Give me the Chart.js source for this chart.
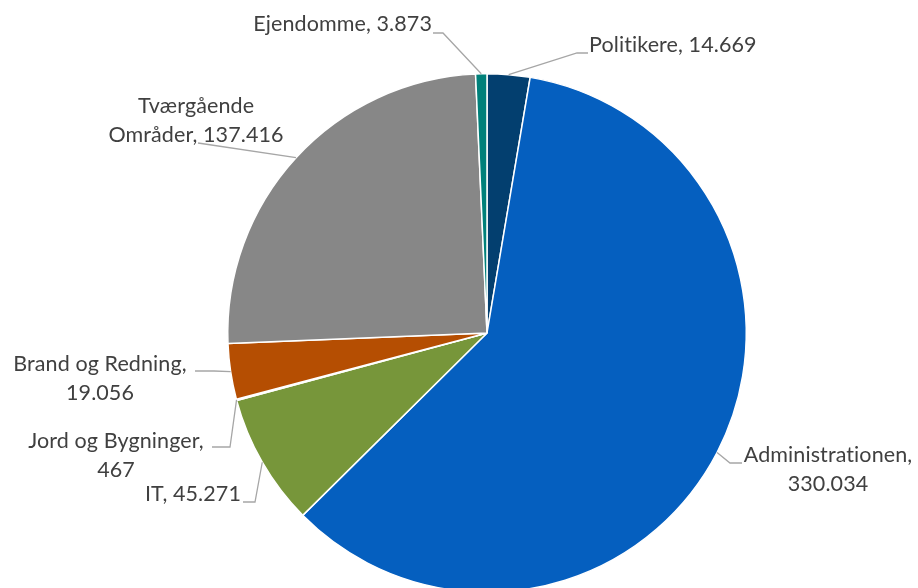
<!DOCTYPE html>
<html>
<head>
<meta charset="utf-8">
<script src="https://cdn.jsdelivr.net/npm/chart.js@4.4.1/dist/chart.umd.min.js"></script>
<style>
  html, body { margin: 0; padding: 0; background: #fff; overflow: hidden; }
  #wrap { width: 918px; height: 666px; position: relative; }
</style>
</head>
<body>
<div id="wrap"><canvas id="pie"></canvas></div>
<script>
const categories = [
  "Politikere",
  "Administrationen",
  "IT",
  "Jord og Bygninger",
  "Brand og Redning",
  "Tværgående Områder",
  "Ejendomme",
];

const values = [14669, 330034, 45271, 467, 19056, 137416, 3873];

const valueLabels = ["14.669", "330.034", "45.271", "467", "19.056", "137.416", "3.873"];

const sliceColors = [
  "#033f6f",
  "#055fbf",
  "#77963a",
  "#76953a",
  "#b54e02",
  "#878787",
  "#00807a",
];

// where each data label sits (text lines, anchor, elbow of the leader line)
const labelLayout = [
  { lines: ["Politikere, 14.669"], x: 589, y: 45, align: "left", path: [[577, 53], [588, 53]] },
  { lines: ["Administrationen,", "330.034"], x: 828, y: 455, align: "center", path: [[730, 463], [742, 463]] },
  { lines: ["IT, 45.271"], x: 241, y: 494, align: "right", path: [[255, 502], [243, 502]] },
  { lines: ["Jord og Bygninger,", "467"], x: 116, y: 441, align: "center", path: [[230, 447], [212, 447]] },
  { lines: ["Brand og Redning,", "19.056"], x: 100, y: 364, align: "center", path: [[214, 371], [195, 371]] },
  { lines: ["Tværgående", "Områder, 137.416"], x: 196, y: 106, align: "center", path: [[198, 143]] },
  { lines: ["Ejendomme, 3.873"], x: 432, y: 24, align: "right", path: [[443, 33], [433, 33]] },
];

const labelPlugin = {
  id: "excelLabels",
  afterDraw(chart) {
    const ctx = chart.ctx;
    const arcs = chart.getDatasetMeta(0).data;
    ctx.save();
    arcs.forEach((arc, i) => {
      const lay = labelLayout[i];
      const { x, y, startAngle, endAngle, outerRadius } = arc.getProps(["x", "y", "startAngle", "endAngle", "outerRadius"], true);
      const mid = (startAngle + endAngle) / 2;
      const sx = x + Math.cos(mid) * outerRadius;
      const sy = y + Math.sin(mid) * outerRadius;
      ctx.beginPath();
      ctx.strokeStyle = "#a6a6a6";
      ctx.lineWidth = 1.3;
      ctx.moveTo(sx, sy);
      lay.path.forEach(p => ctx.lineTo(p[0], p[1]));
      ctx.stroke();

      ctx.fillStyle = "#404040";
      ctx.font = "21.5px Lato, 'Open Sans', sans-serif";
      ctx.letterSpacing = "0.1px"; // keeps Lato from joining "ti"
      ctx.textAlign = lay.align;
      ctx.textBaseline = "middle";
      lay.lines.forEach((t, k) => ctx.fillText(t, lay.x, lay.y + k * 29));
    });
    ctx.restore();
  },
};

new Chart(document.getElementById("pie"), {
  type: "pie",
  plugins: [labelPlugin],
  data: {
    labels: categories,
    datasets: [{
      data: values,
      backgroundColor: sliceColors,
      borderColor: "#ffffff",
      borderWidth: 1.5,
    }],
  },
  options: {
    responsive: true,
    maintainAspectRatio: false,
    animation: false,
    layout: { padding: { top: 73, bottom: 73, left: 56, right: 0 } },
    plugins: {
      legend: { display: false },
      tooltip: { enabled: false },
    },
  },
});
</script>
</body>
</html>
